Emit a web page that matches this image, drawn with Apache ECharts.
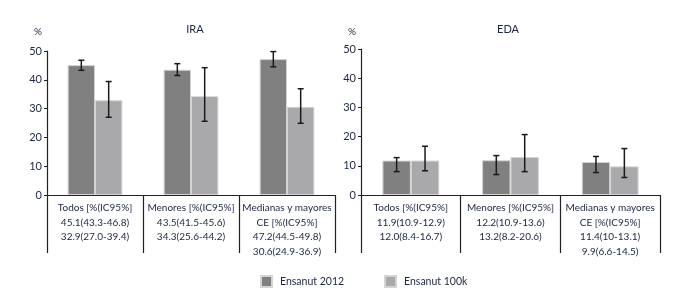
<!DOCTYPE html>
<html>
<head>
<meta charset="utf-8">
<script src="https://cdn.jsdelivr.net/npm/echarts@6/dist/echarts.min.js"></script>
<style>
  html, body { margin: 0; padding: 0; background: #fff; }
  #chart { width: 674px; height: 299px; }
</style>
</head>
<body>
<div id="chart"></div>
<script>
const categoriesIRA = [
  'Todos [%(IC95%]\n45.1(43.3-46.8)\n32.9(27.0-39.4)',
  'Menores [%(IC95%]\n43.5(41.5-45.6)\n34.3(25.6-44.2)',
  'Medianas y mayores\nCE [%(IC95%]\n47.2(44.5-49.8)\n30.6(24.9-36.9)'
]
const categoriesEDA = [
  'Todos [%(IC95%]\n11.9(10.9-12.9)\n12.0(8.4-16.7)',
  'Menores [%(IC95%]\n12.2(10.9-13.6)\n13.2(8.2-20.6)',
  'Medianas y mayores\nCE [%(IC95%]\n11.4(10-13.1)\n9.9(6.6-14.5)'
]
const seriesNames = ['Ensanut 2012', 'Ensanut 100k']

// IRA
const ira2012 = [45.1, 43.5, 47.2]
const ira2012Low = [43.3, 41.5, 44.5]
const ira2012High = [46.8, 45.6, 49.8]
const ira100k = [32.9, 34.3, 30.6]
const ira100kLow = [27.0, 25.6, 24.9]
const ira100kHigh = [39.4, 44.2, 36.9]

// EDA (as drawn)
const eda2012 = [11.8, 11.9, 11.3]
const eda2012Low = [8.0, 7.0, 7.7]
const eda2012High = [12.8, 13.5, 13.2]
const eda100k = [11.8, 13.0, 9.8]
const eda100kLow = [8.3, 8.0, 6.0]
const eda100kHigh = [16.7, 20.7, 15.9]

const yTicks = [0, 10, 20, 30, 40, 50]

const textColor = '#1c2640'
const darkGray = '#808080'
const lightGray = '#a9a9ac'
const gapRatio = 0.43

const myChart = echarts.init(document.getElementById('chart'))

const errorSeries = (gridIdx, which, low, high) => ({
  type: 'custom',
  xAxisIndex: gridIdx,
  yAxisIndex: gridIdx,
  silent: true,
  z: 10,
  data: low.map((l, i) => [i, l, high[i]]),
  renderItem: (params, api) => {
    const band = api.size([1, 0])[0]
    const barW = band * (1 - gapRatio) / 2
    const c = api.coord([api.value(0), 0])
    const x = c[0] + (which === 0 ? -barW / 2 : barW / 2)
    const yLow = api.coord([api.value(0), api.value(1)])[1]
    const yHigh = api.coord([api.value(0), api.value(2)])[1]
    const cap = 3
    const style = { stroke: '#1a1a1a', lineWidth: 1.5 }
    return {
      type: 'group',
      children: [
        { type: 'line', shape: { x1: x, y1: yLow, x2: x, y2: yHigh }, style },
        { type: 'line', shape: { x1: x - cap, y1: yHigh, x2: x + cap, y2: yHigh }, style },
        { type: 'line', shape: { x1: x - cap, y1: yLow, x2: x + cap, y2: yLow }, style }
      ]
    }
  }
})

const barSeries = (gridIdx, name, data, color) => ({
  name: name,
  type: 'bar',
  xAxisIndex: gridIdx,
  yAxisIndex: gridIdx,
  barGap: 0,
  barCategoryGap: (gapRatio * 100) + '%',
  itemStyle: { color: color, borderColor: '#d4d4d4', borderWidth: 1 },
  data: data
})

const xAxisOf = (gridIdx, cats) => ({
  type: 'category',
  gridIndex: gridIdx,
  data: cats,
  axisLine: { lineStyle: { color: '#222', width: 1.2 } },
  axisTick: { show: true, length: 58, lineStyle: { color: '#222', width: 1.2 } },
  axisLabel: {
    color: textColor,
    fontFamily: 'Lato',
    fontSize: 10,
    lineHeight: 14.5,
    margin: 6,
    interval: 0,
    verticalAlign: 'top'
  }
})

const yAxisOf = (gridIdx) => ({
  type: 'value',
  gridIndex: gridIdx,
  min: 0,
  max: yTicks[yTicks.length - 1],
  interval: 10,
  axisLine: { show: true, lineStyle: { color: '#222', width: 1.2 } },
  axisTick: { show: true, length: 3, lineStyle: { color: '#222' } },
  axisLabel: { color: textColor, fontFamily: 'Lato', fontSize: 11, margin: 5 },
  splitLine: { show: false }
})

const option = {
  backgroundColor: '#fff',
  animation: false,
  textStyle: { fontFamily: 'Lato' },
  title: [
    { text: 'IRA', left: 190, top: 19, textAlign: 'center',
      textStyle: { color: textColor, fontSize: 11, fontWeight: 'normal' } },
    { text: 'EDA', left: 503, top: 19, textAlign: 'center',
      textStyle: { color: textColor, fontSize: 11, fontWeight: 'normal' } },
    { text: '%', left: 29, top: 22,
      textStyle: { color: textColor, fontSize: 10, fontWeight: 'normal' } },
    { text: '%', left: 343, top: 22,
      textStyle: { color: textColor, fontSize: 10, fontWeight: 'normal' } }
  ],
  legend: {
    data: seriesNames,
    top: 275,
    left: 260,
    padding: 0,
    itemWidth: 11,
    itemHeight: 11,
    itemGap: 40,
    icon: 'rect',
    textStyle: { color: textColor, fontSize: 10.5, fontFamily: 'Lato', padding: [0, 0, 0, 3] }
  },
  grid: [
    { left: 47, top: 51, width: 288, height: 144 },
    { left: 361, top: 49, width: 299, height: 146 }
  ],
  xAxis: [xAxisOf(0, categoriesIRA), xAxisOf(1, categoriesEDA)],
  yAxis: [yAxisOf(0), yAxisOf(1)],
  series: [
    barSeries(0, seriesNames[0], ira2012, darkGray),
    barSeries(0, seriesNames[1], ira100k, lightGray),
    barSeries(1, seriesNames[0], eda2012, darkGray),
    barSeries(1, seriesNames[1], eda100k, lightGray),
    errorSeries(0, 0, ira2012Low, ira2012High),
    errorSeries(0, 1, ira100kLow, ira100kHigh),
    errorSeries(1, 0, eda2012Low, eda2012High),
    errorSeries(1, 1, eda100kLow, eda100kHigh)
  ]
}

myChart.setOption(option)
window.addEventListener('resize', () => myChart.resize())
</script>
</body>
</html>
